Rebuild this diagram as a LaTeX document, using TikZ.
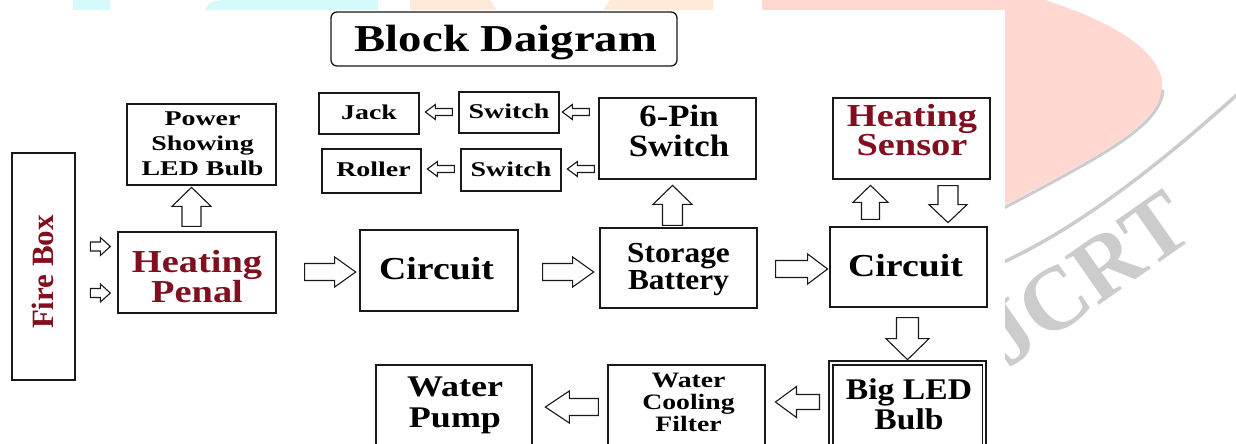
\documentclass[tikz,border=0pt]{standalone}
\usepackage{fontspec}
\setmainfont{Liberation Serif}
\usepackage{graphicx}
\usetikzlibrary{calc}
\definecolor{maroon}{RGB}{128,16,32}
\definecolor{wmcyan}{RGB}{214,250,252}
\definecolor{wmorange}{RGB}{255,234,218}
\definecolor{wmpink}{RGB}{255,216,210}
\definecolor{wmgrey}{RGB}{204,204,204}
\definecolor{ink}{RGB}{25,25,25}
% #1 size, #2 xscale, #3 baselineskip, #4 lines
\newcommand\tb[4]{\scalebox{#2}[1]{\fontsize{#1}{#3}\selectfont\bfseries\begin{tabular}[t]{@{}c@{}}#4\end{tabular}}}
% #1 start, #2 angle, #3 length, #4 shaft half width, #5 head half width, #6 head length
\newcommand\blockarrow[6]{\draw[hollow, shift={#1}, rotate=#2] (0,#4) -- ({#3-#6},#4) -- ({#3-#6},#5) -- (#3,0) -- ({#3-#6},-#5) -- ({#3-#6},-#4) -- (0,-#4) -- cycle;}
\tikzset{
  box/.style={draw=ink, line width=1.3pt, inner sep=0pt},
  txt/.style={inner sep=0pt, outer sep=0pt, anchor=base},
  hollow/.style={draw=ink, line width=1.1pt, fill=white, line join=miter},
}
\begin{document}
\begin{tikzpicture}[x=1pt, y=-1pt]
\useasboundingbox (0,0) rectangle (1236,444);
\fill[white] (0,0) rectangle (1236,444);
% watermark
\fill[wmcyan] (73,0) rectangle (110,10);
\fill[wmcyan] (205,10) .. controls (208,2) and (215,0) .. (225,0) -- (378,0) -- (378,10) -- cycle;
\fill[wmorange] (410,0) -- (490,0) -- (497,10) -- (410,10) -- cycle;
\fill[wmorange] (610,0) -- (713,0) -- (713,10) -- (603,10) -- cycle;
\fill[wmpink] (762,0) rectangle (1006,10);
\fill[wmpink] (950,0) -- (1045,0) .. controls (1100,18) and (1158,45) .. (1162,82) .. controls (1166,120) and (1110,150) .. (1005,205) -- (950,205) -- cycle;
\draw[wmgrey, line width=3pt] (1163,90) .. controls (1160,125) and (1110,152) .. (1000,210);
\draw[wmgrey, line width=3.5pt] (990,268) .. controls (1080,230) and (1170,155) .. (1240,92);
\node[rotate=35, text=wmgrey, inner sep=0pt] (wm) at (1086,279) {\fontsize{90}{90}\selectfont\bfseries JCRT};
\fill[white] (0,10) rectangle (1005,444);

% boxes
\node[box, rounded corners=6pt, minimum width=346pt, minimum height=54pt] (title) at (504,39) {};
\node[box, minimum width=63pt, minimum height=227pt] (fire) at (43.5,266.5) {};
\node[box, minimum width=149pt, minimum height=81pt] (power) at (201.5,144.5) {};
\node[box, minimum width=158pt, minimum height=81pt] (hp) at (197,272.5) {};
\node[box, minimum width=158pt, minimum height=81pt] (c1) at (439,270.5) {};
\node[box, minimum width=157pt, minimum height=80pt] (sb) at (678.5,268) {};
\node[box, minimum width=157pt, minimum height=81pt] (pin) at (677.5,138.5) {};
\node[box, minimum width=157pt, minimum height=81pt] (hs) at (911.5,138.5) {};
\node[box, minimum width=157pt, minimum height=80pt] (c2) at (908.5,267) {};
\node[box, minimum width=100pt, minimum height=41pt] (jack) at (369,113.5) {};
\node[box, minimum width=100pt, minimum height=41pt] (sw1) at (509,112.5) {};
\node[box, minimum width=99pt, minimum height=44pt] (roller) at (371.5,171) {};
\node[box, minimum width=100pt, minimum height=42pt] (sw2) at (511,170) {};
\node[box, minimum width=156pt, minimum height=95pt] (pump) at (454,412.5) {};
\node[box, minimum width=157pt, minimum height=95pt] (filter) at (686.5,412.5) {};
\node[box, line width=1.1pt, minimum width=157pt, minimum height=99pt] (led) at (907.5,410.5) {};
\draw[ink, line width=1.1pt] ($(led.north west)+(4.5,4.5)$) rectangle ($(led.south east)+(-4.5,-4.5)$);

% texts
\node[txt] at ($(title.north)+(2,40)$) {\tb{38}{1.23}{40}{Block Daigram}};
\node[rotate=90, text=maroon, inner sep=0pt] at ($(fire.center)+(-1,5.5)$) {\fontsize{31}{31}\selectfont\bfseries Fire Box};
\node[txt] at ($(power.north)+(1,22)$) {\tb{21}{1.33}{25}{Power\\Showing\\LED Bulb}};
\node[txt, text=maroon] at ($(hp.north)+(0,41)$) {\tb{32}{1.2}{27.5}{Heating\\Penal}};
\node[txt] at ($(c1.north)+(-2.5,50)$) {\tb{32}{1.18}{34}{Circuit}};
\node[txt] at ($(sb.north)+(0,35)$) {\tb{29}{1.08}{26}{Storage\\Battery}};
\node[txt] at ($(pin.north)+(1.5,29)$) {\tb{31}{1.12}{28}{6-Pin\\Switch}};
\node[txt, text=maroon] at ($(hs.north)+(0.5,29)$) {\tb{32}{1.2}{27}{Heating\\Sensor}};
\node[txt] at ($(c2.north)+(-3,50)$) {\tb{32}{1.18}{34}{Circuit}};
\node[txt] at ($(jack.north)+(0,27)$) {\tb{21}{1.33}{24}{Jack}};
\node[txt] at ($(sw1.north)+(0,27)$) {\tb{21}{1.33}{24}{Switch}};
\node[txt] at ($(roller.north)+(2,28)$) {\tb{21}{1.33}{24}{Roller}};
\node[txt] at ($(sw2.north)+(0,28)$) {\tb{21}{1.33}{24}{Switch}};
\node[txt] at ($(pump.north)+(1,32)$) {\tb{30}{1.2}{31}{Water\\Pump}};
\node[txt] at ($(filter.north)+(2,23)$) {\tb{22}{1.26}{22}{Water\\Cooling\\Filter}};
\node[txt] at ($(led.north)+(1.5,39)$) {\tb{30}{1.12}{30}{Big LED\\Bulb}};

% block arrows
\blockarrow{($(hp.west)+(-27,-26)$)}{0}{20}{4.5}{9}{10}
\blockarrow{($(hp.west)+(-27,20.5)$)}{0}{20}{4.5}{9}{10}
\blockarrow{($(hp.north)+(-5.5,-5)$)}{90}{39}{9.5}{19.5}{19}
\blockarrow{($(hp.east)+(28,-0.5)$)}{0}{51}{8.5}{15}{21}
\blockarrow{($(c1.east)+(24,1.5)$)}{0}{51}{8.5}{15}{21}
\blockarrow{($(sb.east)+(18,1)$)}{0}{52}{8.5}{15}{20}
\blockarrow{($(sb.north)+(-6,-2)$)}{90}{40}{10}{19.5}{19}
\blockarrow{($(c2.north)+(-38,-7)$)}{90}{34}{9}{17.5}{17}
\blockarrow{($(hs.south)+(36.5,6)$)}{270}{37}{10}{19}{18}
\blockarrow{($(pin.west)+(-9,-26.5)$)}{180}{27}{3.5}{7.5}{10}
\blockarrow{($(sw1.west)+(-6,-0.5)$)}{180}{27}{3.5}{7.5}{10}
\blockarrow{($(pin.west)+(-4,30.5)$)}{180}{27}{3.5}{7.5}{10}
\blockarrow{($(sw2.west)+(-6,-1)$)}{180}{27}{3.5}{7.5}{10}
\blockarrow{($(c2.south)+(-1,10)$)}{270}{42}{11}{21.5}{21}
\blockarrow{($(led.west)+(-9,-8.5)$)}{180}{44}{7.5}{15.5}{21}
\blockarrow{($(filter.west)+(-9,-5.5)$)}{180}{53}{8.5}{16}{24}
\end{tikzpicture}
\end{document}
